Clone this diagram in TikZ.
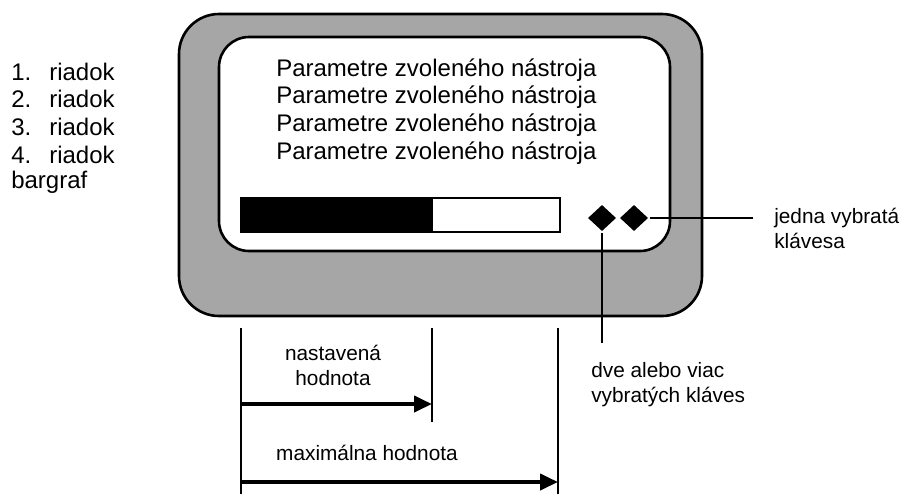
\documentclass[tikz,border=0pt]{standalone}
\usepackage{fontspec}
\setmainfont{Liberation Sans}
\usetikzlibrary{shapes.geometric,arrows.meta}
\definecolor{casegray}{RGB}{166,166,166}

\begin{document}
\begin{tikzpicture}[x=0.5pt,y=-0.5pt,line width=1.3pt,
                    big/.style={font=\fontsize{12}{14}\selectfont,inner sep=0pt},
                    small/.style={font=\fontsize{10.4}{12.5}\selectfont,inner sep=0pt},
                    key/.style={diamond,fill=black,minimum width=14.5pt,
                                minimum height=13.5pt,inner sep=0pt},
                    measure/.style={-{Triangle[length=9pt,width=8pt]},line width=2pt}]

  \useasboundingbox (0,0) rectangle (904,494);

  % device case and display
  \draw[fill=casegray,rounded corners=20pt] (179,14) rectangle (702,316);
  \draw[fill=white,rounded corners=15pt]    (219,37) rectangle (670,251);

  % left legend
  \foreach \i/\y in {1/72,2/99,3/127,4/155}{
    \node[big,anchor=west] (num\i) at (10,\y) {\i.};
    \node[big,anchor=west] (row\i) at (48,\y) {riadok};
    \node[big,anchor=west] (par\i) at (275,\y-2) {Parametre zvoleného nástroja};
  }
  \node[big,anchor=west] (bargraf) at (10,182) {bargraf};

  % bargraph
  \fill (241,198) rectangle (433,232);
  \draw (241,198) rectangle (560,232);

  % keys
  \node[key] (multi)  at (602,218) {};
  \node[key] (single) at (634,218) {};
  \coordinate (singleend) at (753,218);
  \coordinate (multiend)  at (602,343);
  \draw (single.east) -- (singleend);
  \draw (multi.south) -- (multiend);
  \node[small,anchor=west,align=left] (singlelbl) at (773,228)
       {jedna vybratá\\klávesa};
  \node[small,anchor=west,align=left] (multilbl) at (590,385)
       {dve alebo viac\\vybratých kláves};

  % value marks
  \coordinate (zerotop) at (241,328);  \coordinate (zerobot) at (241,494);
  \coordinate (settop)  at (432,328);  \coordinate (setbot)  at (432,422);
  \coordinate (maxtop)  at (558,328);  \coordinate (maxbot)  at (558,494);
  \draw (zerotop) -- (zerobot);
  \draw (settop) -- (setbot);
  \draw (maxtop) -- (maxbot);

  \coordinate (setfrom) at (241,404);  \coordinate (setto) at (432,404);
  \coordinate (maxfrom) at (241,482);  \coordinate (maxto) at (558,482);
  \draw[measure] (setfrom) -- (setto);
  \draw[measure] (maxfrom) -- (maxto);

  \node[small,align=center] (setlbl) at (333,365) {nastavená\\hodnota};
  \node[small] (maxlbl) at (367,453) {maximálna hodnota};
\end{tikzpicture}
\end{document}
